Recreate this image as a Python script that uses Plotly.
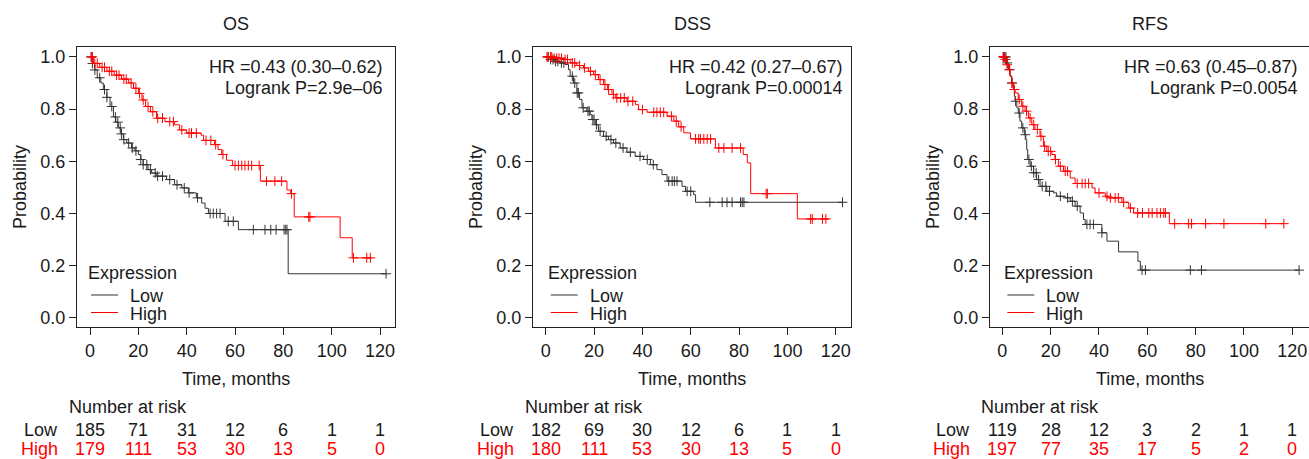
import numpy as np
import plotly.graph_objects as go

# ---------------- data ----------------
panels = ["OS", "DSS", "RFS"]
hr_text = ["HR =0.43 (0.30–0.62)", "HR =0.42 (0.27–0.67)", "HR =0.63 (0.45–0.87)"]
p_text = ["Logrank P=2.9e–06", "Logrank P=0.00014", "Logrank P=0.0054"]
groups = ["Low", "High"]
legend_title = "Expression"

risk_times = [0, 20, 40, 60, 80, 100, 120]
os_risk_low = [185, 71, 31, 12, 6, 1, 1]
os_risk_high = [179, 111, 53, 30, 13, 5, 0]
dss_risk_low = [182, 69, 30, 12, 6, 1, 1]
dss_risk_high = [180, 111, 53, 30, 13, 5, 0]
rfs_risk_low = [119, 28, 12, 3, 2, 1, 1]
rfs_risk_high = [197, 77, 35, 17, 5, 2, 0]

# OS
os_low_t = [0, 1, 2, 3, 4.5, 5.5, 7, 8.3, 9.7, 10.7, 11.7, 12.8, 13.8, 15.2, 17.2, 18.6, 20, 21, 22, 24, 25.5,
            27.6, 31.7, 35, 38, 40.7, 44, 46.2, 47.6, 49, 55.9, 61.4, 82, 122.5]
os_low_s = [1, 0.975, 0.95, 0.92, 0.9, 0.875, 0.845, 0.81, 0.77, 0.75, 0.728, 0.705, 0.683, 0.67, 0.651, 0.64,
            0.626, 0.607, 0.587, 0.568, 0.555, 0.543, 0.53, 0.51, 0.498, 0.479, 0.46, 0.44, 0.42, 0.40, 0.37,
            0.338, 0.169, 0.169]
os_low_cens = [0.5, 1, 2, 4, 6, 7, 9, 10.5, 11.5, 12.5, 13, 14, 16, 17.5, 19, 21, 22, 23.5, 25, 27, 28, 30, 33,
               36, 39, 41, 44.5, 49.7, 51, 52.4, 53.8, 57.2, 59.3, 67.6, 72.4, 74.8, 77, 80.3, 81, 81.5, 122.5]
os_high_t = [0, 1.5, 4, 7, 10, 13, 16, 18, 20, 21.5, 23, 25, 27.5, 31, 35, 37, 40, 46, 47, 51.5, 53, 54.5, 56.5,
             59, 70.5, 81.5, 83, 84.5, 103.5, 108.5, 116.5]
os_high_s = [1, 0.975, 0.96, 0.945, 0.93, 0.915, 0.9, 0.88, 0.86, 0.835, 0.81, 0.79, 0.765, 0.752, 0.74, 0.72,
             0.708, 0.70, 0.68, 0.664, 0.645, 0.626, 0.604, 0.584, 0.524, 0.49, 0.476, 0.387, 0.307, 0.23, 0.23]
os_high_cens = [0.5, 1, 2, 3, 5, 6, 8, 9, 11, 12, 14, 15, 17, 19, 20.5, 22, 24, 26, 28, 30, 33, 34.5, 38, 41, 42,
                44, 48, 50, 52, 55, 60, 61.4, 62.8, 64.1, 65.5, 66.9, 70, 73, 76.5, 79.3, 83.4, 90.5, 91, 109,
                114.5, 116]

# DSS
dss_low_t = [0, 1.8, 3.2, 5.9, 8, 9.4, 10.1, 11.5, 12.9, 14, 15, 17, 18.4, 19.1, 20.5, 21.8, 23.9, 26, 28, 30.8,
             33.6, 37, 40.5, 43.3, 46, 48.1, 50.2, 56.4, 57.8, 61.2, 62, 122.8]
dss_low_s = [1, 0.99, 0.983, 0.977, 0.971, 0.951, 0.926, 0.9, 0.862, 0.837, 0.805, 0.792, 0.779, 0.76, 0.74,
             0.715, 0.696, 0.683, 0.67, 0.651, 0.635, 0.619, 0.607, 0.587, 0.568, 0.549, 0.524, 0.504, 0.485,
             0.472, 0.443, 0.443]
dss_low_cens = [1, 2, 3, 4, 5, 6.5, 7.5, 11, 12, 13, 13.5, 15.5, 17.5, 18, 19.5, 20, 21, 22.5, 25, 27, 29, 32,
                35, 39, 42, 44.5, 50.9, 52.3, 53.2, 54.3, 58.5, 60, 67.9, 73, 75, 77.1, 80.6, 81.3, 82, 122.8]
dss_high_t = [0, 3.2, 7.3, 10.1, 12.9, 15.6, 17.7, 19.8, 21.8, 23.9, 25.6, 27.4, 28.8, 33.6, 37.1, 38.4, 41.9,
              50.2, 53, 55, 57.1, 59.9, 70.2, 81.7, 83.4, 84.8, 104.1, 117.2]
dss_high_s = [1, 0.995, 0.99, 0.977, 0.967, 0.958, 0.945, 0.932, 0.913, 0.894, 0.875, 0.856, 0.843, 0.83, 0.817,
              0.798, 0.788, 0.773, 0.754, 0.732, 0.709, 0.686, 0.651, 0.626, 0.594, 0.476, 0.379, 0.379]
dss_high_cens = [0.5, 1, 2, 2.5, 3.5, 4.5, 5.5, 6.5, 8, 9, 11, 12, 14, 16, 18.5, 20.5, 22.5, 24.5, 26, 28,
                 29.4, 31, 32.5, 34, 36, 40, 44.7, 46, 47.4, 48.8, 52, 54, 56, 62, 63.3, 64, 65.4, 66.8, 68.2,
                 71.6, 73.7, 77.1, 80.6, 91.2, 91.7, 109.6, 110.3, 114.5, 115.9]

# RFS
rfs_low_t = [0, 1.8, 2.5, 3.2, 3.9, 4.6, 5, 5.3, 6, 6.6, 7.3, 8, 9.1, 9.7, 10.1, 10.5, 11.5, 12.9, 14.2, 15.6,
             18.4, 21.2, 22.5, 26, 28.1, 30.1, 32.2, 33.6, 34.3, 41.2, 43.3, 48.1, 56.1, 57.1, 122.8]
rfs_low_s = [1, 0.977, 0.951, 0.926, 0.9, 0.875, 0.849, 0.83, 0.805, 0.785, 0.754, 0.728, 0.702, 0.683, 0.645,
             0.607, 0.581, 0.556, 0.53, 0.504, 0.485, 0.479, 0.466, 0.46, 0.447, 0.428, 0.402, 0.377, 0.358,
             0.326, 0.294, 0.253, 0.217, 0.183, 0.183]
rfs_low_cens = [0.5, 1, 1.5, 2, 3, 4, 5.5, 7, 8.5, 9.5, 11, 12, 13, 14, 15, 16.5, 18, 19.5, 24, 27, 29, 31, 35,
                36.3, 37.7, 41.2, 57.8, 59.2, 77.8, 82.4, 122.8]
rfs_high_t = [0, 1.1, 1.8, 2.5, 3.2, 3.9, 4.6, 5.3, 6.6, 8, 9.4, 10.8, 12.2, 13.5, 15.6, 17, 18.4, 20.5, 21.8,
              23.2, 25.3, 28.1, 30.1, 37.1, 38.4, 42.6, 44, 49.5, 52.3, 54.3, 69.1, 116.5]
rfs_high_s = [1, 0.99, 0.97, 0.951, 0.926, 0.9, 0.875, 0.862, 0.837, 0.811, 0.792, 0.766, 0.74, 0.722, 0.696,
              0.658, 0.638, 0.626, 0.607, 0.581, 0.562, 0.536, 0.515, 0.498, 0.479, 0.466, 0.46, 0.443, 0.421,
              0.402, 0.361, 0.361]
rfs_high_cens = [0.3, 0.8, 1.3, 2, 3, 4, 5, 7, 8.5, 10, 11.5, 13, 14.5, 16, 17.5, 19, 20, 22, 24, 26, 27, 31,
                 33, 34.3, 35.7, 40, 43.3, 44.7, 46.7, 48, 50.2, 53, 56, 58, 60.6, 62, 64, 65.4, 66.8, 67.5, 71.3,
                 77.1, 78.3, 84.1, 91.7, 109, 116.5]

curves = [
    (os_low_t, os_low_s, os_low_cens, os_high_t, os_high_s, os_high_cens, os_risk_low, os_risk_high),
    (dss_low_t, dss_low_s, dss_low_cens, dss_high_t, dss_high_s, dss_high_cens, dss_risk_low, dss_risk_high),
    (rfs_low_t, rfs_low_s, rfs_low_cens, rfs_high_t, rfs_high_s, rfs_high_cens, rfs_risk_low, rfs_risk_high),
]

# ---------------- styling / layout (pixels) ----------------
W, H = 1309, 459
FONT = "Liberation Sans, Arial, Helvetica, sans-serif"
FS = 18
TXT = "#1a1a1a"
LOW_C = "#333333"
HIGH_C = "#ff0000"
x_dom_px = [(77, 395), (533, 851), (990, 1309)]
x_ranges = [[-5.38, 126.2], [-5.27, 126.3], [-5.1, 126.9]]
y_dom = [1 - 327 / H, 1 - 47 / H]
hr_dx = [295, 299, 298]       # right edge of HR text, px right of month 0
leg_dx = [-4, 0, 0]           # legend left, px from month 0
ROW_LOW, ROW_HIGH = 430, 449


def py(p):
    return 1 - p / H


def step_val(t, s, c):
    t = np.asarray(t)
    s = np.asarray(s)
    idx = np.searchsorted(t, c, side="right") - 1
    return s[np.clip(idx, 0, len(s) - 1)]


fig = go.Figure()
annotations = []
shapes = []
f_txt = dict(family=FONT, size=FS, color=TXT)
f_red = dict(family=FONT, size=FS, color=HIGH_C)

for i, (name, cv) in enumerate(zip(panels, curves)):
    lt, ls, lc, ht, hs, hc, rl, rh = cv
    xa = "x" if i == 0 else f"x{i+1}"
    ya = "y" if i == 0 else f"y{i+1}"
    fig.add_trace(go.Scatter(x=lt, y=ls, mode="lines", line=dict(color=LOW_C, width=1, shape="hv"),
                             name=groups[0], xaxis=xa, yaxis=ya, showlegend=False))
    fig.add_trace(go.Scatter(x=ht, y=hs, mode="lines", line=dict(color=HIGH_C, width=1, shape="hv"),
                             name=groups[1], xaxis=xa, yaxis=ya, showlegend=False))
    fig.add_trace(go.Scatter(x=lc, y=step_val(lt, ls, lc), mode="markers",
                             marker=dict(symbol="cross-thin", size=7, line=dict(color=LOW_C, width=1)),
                             showlegend=False, xaxis=xa, yaxis=ya))
    fig.add_trace(go.Scatter(x=hc, y=step_val(ht, hs, hc), mode="markers",
                             marker=dict(symbol="cross-thin", size=7, line=dict(color=HIGH_C, width=1)),
                             showlegend=False, xaxis=xa, yaxis=ya))

    x0, x1 = x_dom_px[i]
    axis_common = dict(showline=True, mirror=True, linecolor="#222", linewidth=1, ticks="outside",
                       ticklen=7, tickcolor="#222", showgrid=False, zeroline=False,
                       tickfont=f_txt)
    fig.update_layout(**{
        ("xaxis" if i == 0 else f"xaxis{i+1}"): dict(domain=[x0 / W, x1 / W], range=x_ranges[i],
                                                     tickvals=risk_times, anchor=ya, **axis_common),
        ("yaxis" if i == 0 else f"yaxis{i+1}"): dict(domain=y_dom, range=[-0.035, 1.038],
                                                     tickvals=[0, 0.2, 0.4, 0.6, 0.8, 1.0], tickformat=".1f",
                                                     anchor=xa, **axis_common),
    })

    xd = "x domain" if i == 0 else f"x{i+1} domain"
    annotations += [
        dict(text=name, xref=xd, x=0.5, yref="paper", y=py(24), showarrow=False, font=f_txt,
             xanchor="center", yanchor="middle"),
        dict(text=hr_text[i], xref=xa, x=0, xshift=hr_dx[i], yref="paper", y=py(66.5), showarrow=False,
             font=f_txt, xanchor="right", yanchor="middle"),
        dict(text=p_text[i], xref=xa, x=0, xshift=hr_dx[i], yref="paper", y=py(88), showarrow=False,
             font=f_txt, xanchor="right", yanchor="middle"),
        dict(text="Probability", xref="paper", x=(x0 - 57) / W, yref="paper", y=py(187), showarrow=False,
             font=f_txt, textangle=-90, xanchor="center", yanchor="middle"),
        dict(text="Time, months", xref=xd, x=0.5, yref="paper", y=py(379), showarrow=False, font=f_txt,
             xanchor="center", yanchor="middle"),
        # legend
        dict(text=legend_title, xref=xa, x=0, xshift=leg_dx[i], yref="paper", y=py(273), showarrow=False,
             font=f_txt, xanchor="left", yanchor="middle"),
        dict(text=groups[0], xref=xa, x=0, xshift=leg_dx[i] + 42, yref="paper", y=py(295.5), showarrow=False,
             font=f_txt, xanchor="left", yanchor="middle"),
        dict(text=groups[1], xref=xa, x=0, xshift=leg_dx[i] + 42, yref="paper", y=py(313.5), showarrow=False,
             font=f_txt, xanchor="left", yanchor="middle"),
        # number at risk
        dict(text="Number at risk", xref=xa, x=0, xshift=-23, yref="paper", y=py(407), showarrow=False,
             font=f_txt, xanchor="left", yanchor="middle"),
        dict(text=groups[0], xref=xa, x=0, xshift=-30, yref="paper", y=py(ROW_LOW), showarrow=False,
             font=f_txt, xanchor="right", yanchor="middle"),
        dict(text=groups[1], xref=xa, x=0, xshift=-30, yref="paper", y=py(ROW_HIGH), showarrow=False,
             font=f_red, xanchor="right", yanchor="middle"),
    ]
    for yy, col in ((295, LOW_C), (312.5, HIGH_C)):
        shapes.append(dict(type="line", xref=xa, xsizemode="pixel", xanchor=0,
                           x0=leg_dx[i] + 5, x1=leg_dx[i] + 32, yref="paper", y0=py(yy), y1=py(yy),
                           line=dict(color=col, width=1)))
    for t, vl, vh in zip(risk_times, rl, rh):
        annotations.append(dict(text=str(vl), xref=xa, x=t, yref="paper", y=py(ROW_LOW), showarrow=False,
                                font=f_txt, xanchor="center", yanchor="middle"))
        annotations.append(dict(text=str(vh), xref=xa, x=t, yref="paper", y=py(ROW_HIGH), showarrow=False,
                                font=f_red, xanchor="center", yanchor="middle"))

fig.update_layout(width=W, height=H, margin=dict(l=0, r=0, t=0, b=0), plot_bgcolor="white",
                  paper_bgcolor="white", annotations=annotations, shapes=shapes, showlegend=False,
                  font=f_txt)
fig.write_html("out.html", config={"displayModeBar": False},
               post_script="document.body.style.margin='0';document.body.style.overflow='hidden';")
